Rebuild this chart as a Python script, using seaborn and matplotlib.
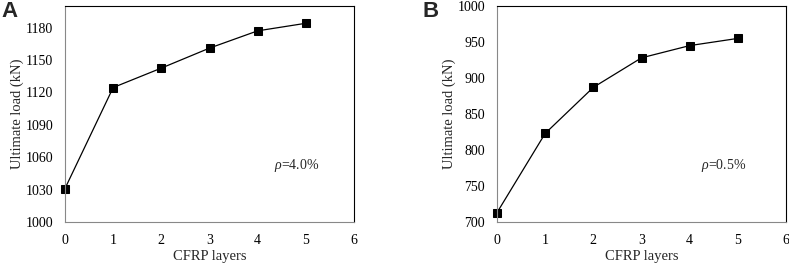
import numpy as np
import pandas as pd
import seaborn as sns
import matplotlib.pyplot as plt

# data
layers = [0, 1, 2, 3, 4, 5]
load_a = [1031, 1124.5, 1142.5, 1161, 1177, 1184]
load_b = [713, 823, 887, 928, 945, 955]

sns.set_style('white')
plt.rcParams['font.family'] = ['Liberation Serif', 'DejaVu Serif']
plt.rcParams['mathtext.fontset'] = 'custom'
plt.rcParams['mathtext.it'] = 'Liberation Serif:italic'

fig = plt.figure(figsize=(7.89, 2.65), dpi=100)
ax1 = fig.add_axes([65/789, 1 - 222/265, 289/789, 216/265])
ax2 = fig.add_axes([497/789, 1 - 222/265, 289/789, 216/265])

panels = [
    (ax1, load_a, (1000, 1200), np.arange(1000, 1181, 30), '=4.0%', (4.33, 1052), 'A', 1/789),
    (ax2, load_b, (700, 1000), np.arange(700, 1001, 50), '=0.5%', (4.24, 778), 'B', 423/789),
]

for ax, vals, ylim, yt, note, pos, letter, lx in panels:
    df = pd.DataFrame({'layers': layers, 'load': vals})
    sns.lineplot(data=df, x='layers', y='load', ax=ax, color='black',
                 marker='s', markersize=6, markeredgecolor='black', linewidth=0.9,
                 clip_on=False)
    ax.set_xlim(0, 6)
    ax.set_ylim(*ylim)
    ax.set_xticks(range(0, 7))
    ax.set_yticks(yt)
    ax.tick_params(direction='in', length=3, width=0.6, labelsize=10,
                   colors='#999999', labelcolor='black', pad=8.5)
    ax.set_xlabel('CFRP layers', fontsize=10.5, labelpad=2)
    ax.set_ylabel('Ultimate load (kN)', fontsize=10.5, labelpad=1)
    for s in ['left', 'bottom']:
        ax.spines[s].set_color('#888888')
        ax.spines[s].set_linewidth(0.8)
    for s in ['top', 'right']:
        ax.spines[s].set_color('black')
        ax.spines[s].set_linewidth(0.8)
    ax.text(pos[0], pos[1], r'$\rho$' + note, fontsize=10, va='center', ha='left')
    fig.text(lx, 0.995, letter, fontsize=16, fontweight='bold',
             family=['Liberation Sans', 'DejaVu Sans'], va='top', ha='left')

fig.savefig('out.png', dpi=100)
